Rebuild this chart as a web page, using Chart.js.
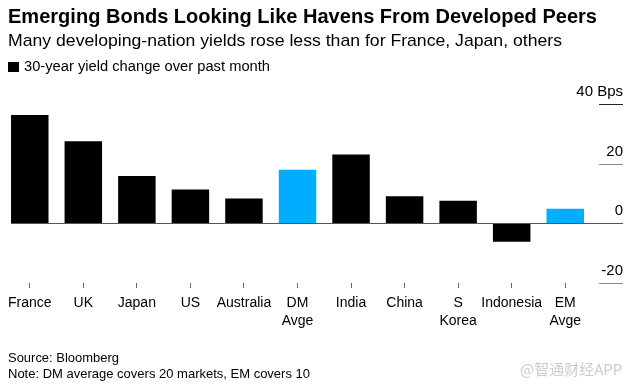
<!DOCTYPE html>
<html>
<head>
<meta charset="utf-8">
<script src="https://cdn.jsdelivr.net/npm/chart.js@4"></script>
<style>
    body { margin: 0; background: #fff; font-family: "Liberation Sans", Arial, sans-serif; color: #000; }
    #wrap { position: relative; width: 637px; height: 386px; overflow: hidden; }
    #myChart { position: absolute; left: 0; top: 0; }
    .txt { position: absolute; left: 8px; white-space: nowrap; transform-origin: 0 0; }
    #titulo { top: 4px; font-size: 21px; font-weight: bold; }
    #subtitulo { top: 31px; font-size: 17px; }
    #legenda { top: 58px; left: 24px; font-size: 14px; }
    #quadrado { position: absolute; left: 8px; top: 62px; width: 11px; height: 10px; background: #000; }
    #fonte { top: 350px; font-size: 13px; }
    #nota { top: 366px; font-size: 13px; }
    #marca { position: absolute; left: 520px; top: 358px; font-size: 15px; color: #ccc; font-family: "Noto Sans CJK SC", sans-serif; }
</style>
</head>
<body>
<div id="wrap">
    <canvas id="myChart" width="637" height="386"></canvas>
    <div class="txt" id="titulo" data-w="589">Emerging Bonds Looking Like Havens From Developed Peers</div>
    <div class="txt" id="subtitulo" data-w="554">Many developing-nation yields rose less than for France, Japan, others</div>
    <div id="quadrado"></div>
    <div class="txt" id="legenda" data-w="246">30-year yield change over past month</div>
    <div class="txt" id="fonte" data-w="111">Source: Bloomberg</div>
    <div class="txt" id="nota" data-w="302">Note: DM average covers 20 markets, EM covers 10</div>
    <div id="marca">@智通财经APP</div>
</div>
<script>
// dados do grafico
const categorias = ['France', 'UK', 'Japan', 'US', 'Australia', ['DM', 'Avge'], 'India', 'China', ['S', 'Korea'], 'Indonesia', ['EM', 'Avge']];
const valores = [36.3, 27.5, 15.9, 11.3, 8.3, 18.0, 23.1, 9.1, 7.6, -6.2, 4.9];
const mediaIdx = [5, 10]; // barras de media (azul)
const yTicks = [40, 20, 0, -20];
const yTickLabels = ['40 Bps', '20', '0', '-20'];

document.addEventListener("DOMContentLoaded", function () {
    // ajusta largura dos textos
    document.querySelectorAll('.txt').forEach(el => {
        const alvo = parseFloat(el.dataset.w);
        const w = el.getBoundingClientRect().width;
        if (alvo && w) el.style.transform = 'scaleX(' + (alvo / w) + ')';
    });

    const cores = valores.map((v, i) => mediaIdx.includes(i) ? '#00adff' : '#000000');

    // eixo y desenhado a direita, com rotulos acima das linhas
    const eixoY = {
        id: 'eixoY',
        afterDatasetsDraw(chart) {
            const ctx = chart.ctx;
            const y = chart.scales.y;
            const bar0 = chart.getDatasetMeta(0).data[0];
            const esquerda = bar0.x - bar0.width / 2;
            ctx.save();
            ctx.font = '15px "Liberation Sans", Arial, sans-serif';
            ctx.textAlign = 'right';
            ctx.textBaseline = 'alphabetic';
            yTicks.forEach((t, i) => {
                const py = Math.round(y.getPixelForValue(t)) + 0.5;
                ctx.strokeStyle = t === 40 ? '#222' : (t === 0 ? '#555' : '#888');
                ctx.lineWidth = 1;
                ctx.beginPath();
                ctx.moveTo(t === 0 ? esquerda : 599, py);
                ctx.lineTo(623, py);
                ctx.stroke();
                ctx.fillStyle = '#000';
                ctx.fillText(yTickLabels[i], 623, py - 9);
            });
            ctx.restore();
        }
    };

    new Chart(document.getElementById('myChart'), {
        type: 'bar',
        data: {
            labels: categorias,
            datasets: [{
                data: valores,
                backgroundColor: cores,
                borderWidth: 0,
                categoryPercentage: 1,
                barPercentage: 0.7
            }]
        },
        options: {
            responsive: false,
            animation: false,
            layout: { padding: { top: 104, left: 3, right: 45, bottom: 53 } },
            plugins: { legend: { display: false }, tooltip: { enabled: false } },
            scales: {
                x: {
                    afterFit(scale) { scale.height = 50; },
                    border: { display: false },
                    grid: { offset: false, drawOnChartArea: false, drawTicks: true, tickLength: 5, color: '#666' },
                    ticks: { color: '#000', padding: 6, maxRotation: 0, autoSkip: false,
                        font: { family: '"Liberation Sans", Arial, sans-serif', size: 14, lineHeight: 1.3 } }
                },
                y: {
                    display: false,
                    min: -20,
                    max: 40
                }
            }
        },
        plugins: [eixoY]
    });
});
</script>
</body>
</html>
